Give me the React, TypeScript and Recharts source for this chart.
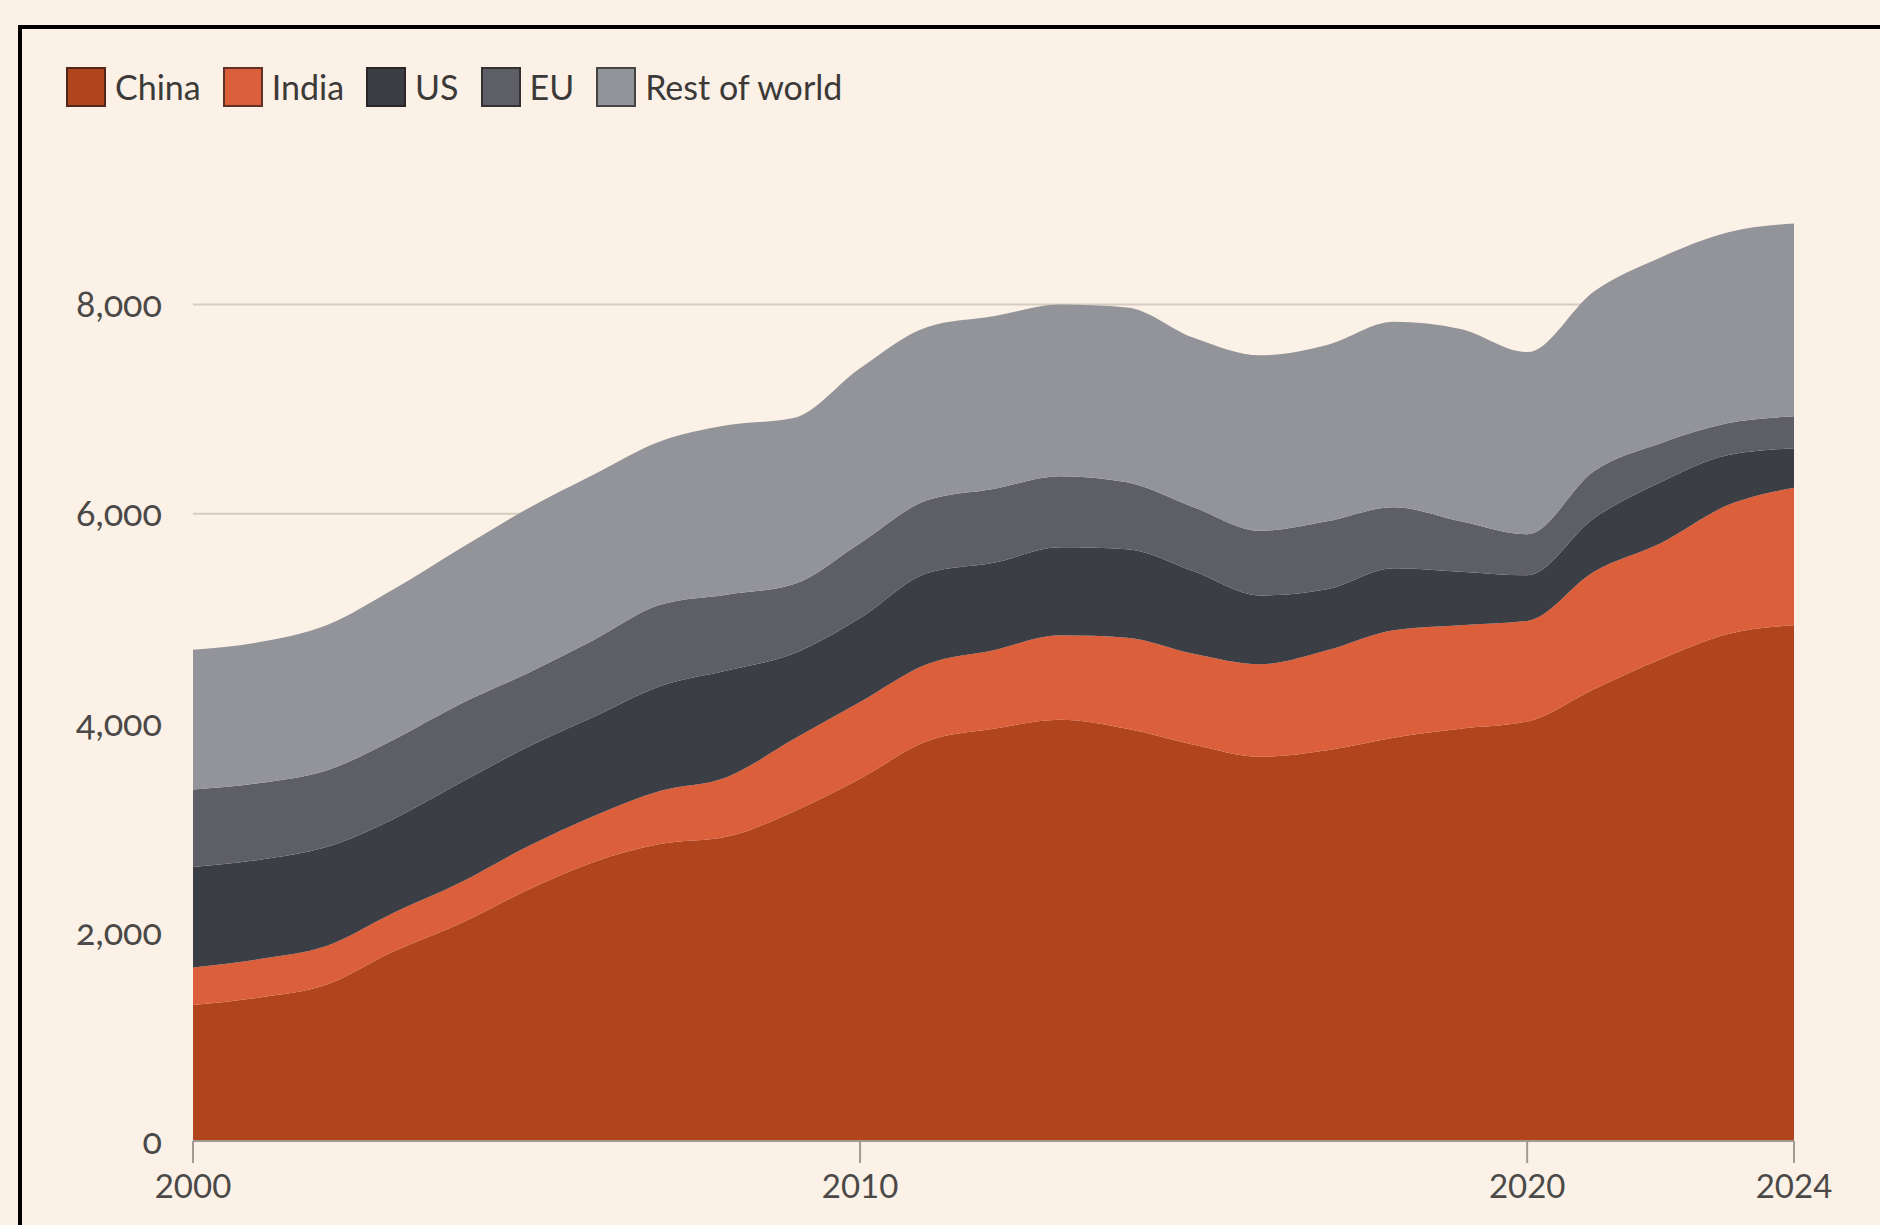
import { AreaChart, Area, XAxis, YAxis, CartesianGrid } from 'recharts';

const years = [
  2000, 2001, 2002, 2003, 2004, 2005, 2006, 2007, 2008, 2009, 2010, 2011, 2012,
  2013, 2014, 2015, 2016, 2017, 2018, 2019, 2020, 2021, 2022, 2023, 2024,
];
const china = [
  1300, 1373, 1494, 1812, 2079, 2397, 2667, 2840, 2909, 3150, 3465, 3824, 3943,
  4029, 3943, 3790, 3675, 3738, 3858, 3943, 4011, 4321, 4608, 4847, 4933,
];
const india = [
  360, 367, 370, 368, 390, 414, 440, 508, 571, 693, 734, 736, 751, 808, 871, 870,
  885, 956, 1027, 990, 963, 1124, 1109, 1233, 1315,
];
const us = [
  960, 950, 947, 898, 954, 952, 948, 1002, 1020, 817, 802, 870, 836, 841, 846, 789,
  658, 583, 593, 512, 437, 511, 583, 478, 377,
];
const eu = [
  742, 733, 732, 758, 755, 707, 735, 778, 725, 665, 717, 698, 707, 680, 640, 612,
  618, 650, 583, 482, 392, 449, 373, 306, 306,
];
const restOfWorld = [
  1337, 1349, 1390, 1438, 1486, 1572, 1582, 1562, 1620, 1589, 1673, 1656, 1650,
  1642, 1673, 1621, 1678, 1687, 1775, 1840, 1743, 1721, 1778, 1826, 1845,
];

const xTicks = [2000, 2010, 2020, 2024];
const yTicks = [0, 2000, 4000, 6000, 8000];
const Y_MAX = 9000;

const series = [
  { key: 'china', name: 'China', color: '#b0441d' },
  { key: 'india', name: 'India', color: '#db5f3a' },
  { key: 'us', name: 'US', color: '#3c3e46' },
  { key: 'eu', name: 'EU', color: '#5e5f66' },
  { key: 'row', name: 'Rest of world', color: '#939499' },
];

const data = years.map((year, i) => ({
  year,
  china: china[i],
  india: india[i],
  us: us[i],
  eu: eu[i],
  row: restOfWorld[i],
}));

const BG = '#fcf1e6';
const FONT = 'Lato, "Open Sans", sans-serif';

function ChartLegend() {
  return (
    <div
      style={{
        position: 'absolute',
        left: 66,
        top: 66,
        display: 'flex',
        alignItems: 'center',
        fontFamily: FONT,
        fontSize: 34,
        color: '#3b3a39',
      }}
    >
      {series.map((s) => (
        <div key={s.key} style={{ display: 'flex', alignItems: 'center', marginRight: 22 }}>
          <span
            style={{
              display: 'inline-block',
              width: 36,
              height: 36,
              background: s.color,
              border: '2px solid rgba(30,25,25,0.65)',
              marginRight: 9,
            }}
          />
          <span>{s.name}</span>
        </div>
      ))}
    </div>
  );
}

// grid only at the tick values (the default also drew a line at the plot top)
const gridRows = ({ offset }: any) =>
  yTicks.map((t) => offset.top + offset.height * (1 - t / Y_MAX));

export default function App() {
  return (
    <div
      style={{
        position: 'absolute',
        left: 0,
        top: 0,
        width: 1880,
        height: 1225,
        background: BG,
        overflow: 'hidden',
      }}
    >
      <div
        style={{
          position: 'absolute',
          left: 18,
          top: 25,
          width: 1950,
          height: 1300,
          border: '4px solid #000',
        }}
      />
      <ChartLegend />
      <div style={{ position: 'absolute', left: 0, top: 0 }}>
        <AreaChart
          width={1880}
          height={1225}
          data={data}
          margin={{ top: 200, right: 86, left: 0, bottom: 0 }}
        >
          <CartesianGrid
            vertical={false}
            stroke="#d6cdc2"
            strokeWidth={2}
            horizontalCoordinatesGenerator={gridRows}
          />
          <XAxis
            dataKey="year"
            type="number"
            domain={[2000, 2024]}
            ticks={xTicks}
            height={84}
            stroke="#a09a93"
            strokeWidth={2}
            tickSize={22}
            tickMargin={12}
            tick={{ fill: '#4a4948', fontSize: 33, fontFamily: FONT }}
          />
          <YAxis
            domain={[0, Y_MAX]}
            ticks={yTicks}
            width={193}
            axisLine={false}
            tickLine={false}
            tickSize={0}
            tickMargin={31}
            tickFormatter={(v) => Number(v).toLocaleString('en-US')}
            tick={{
              fill: '#4a4948',
              fontSize: 36,
              fontFamily: FONT,
              style: { fontVariantNumeric: 'oldstyle-nums' },
            }}
          />
          {series.map((s) => (
            <Area
              key={s.key}
              type="monotone"
              dataKey={s.key}
              name={s.name}
              stackId="1"
              stroke="none"
              fill={s.color}
              fillOpacity={1}
              isAnimationActive={false}
            />
          ))}
        </AreaChart>
      </div>
    </div>
  );
}
